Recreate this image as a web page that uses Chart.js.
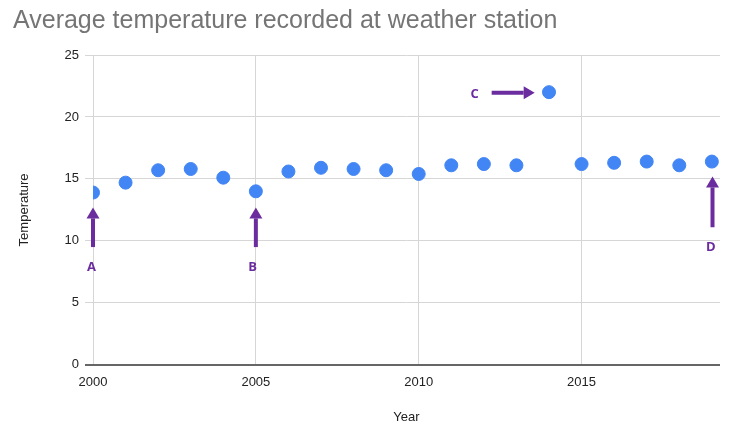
<!DOCTYPE html>
<html>
<head>
<meta charset="utf-8">
<script src="https://cdn.jsdelivr.net/npm/chart.js@4.4.0/dist/chart.umd.min.js"></script>
<style>
  html, body { margin: 0; padding: 0; background: #fff; }
  #wrap { width: 741px; height: 429px; }
</style>
</head>
<body>
<div id="wrap"><canvas id="tempChart"></canvas></div>
<script>
// data
const years = [2000, 2001, 2002, 2003, 2004, 2005, 2006, 2007, 2008, 2009,
               2010, 2011, 2012, 2013, 2014, 2015, 2016, 2017, 2018, 2019]
const temps = [13.9, 14.7, 15.7, 15.8, 15.1, 14.0, 15.6, 15.9, 15.8, 15.7,
               15.4, 16.1, 16.2, 16.1, 22.0, 16.2, 16.3, 16.4, 16.1, 16.4]
const yTicks = [0, 5, 10, 15, 20, 25]
const xTicks = [2000, 2005, 2010, 2015]

// arrow callouts, in data units
const callouts = [
    { label: 'A', x: 2000, y: 9.5, toX: 2000, toY: 12.7, lx: 1999.95, ly: 7.9 },
    { label: 'B', x: 2005, y: 9.5, toX: 2005, toY: 12.7, lx: 2004.9, ly: 7.9 },
    { label: 'C', x: 2012.24, y: 21.95, toX: 2013.56, toY: 21.95, lx: 2011.72, ly: 21.85 },
    { label: 'D', x: 2019.02, y: 11.1, toX: 2019.02, toY: 15.2, lx: 2018.97, ly: 9.5 }
]

const purple = '#6a2c9e'

const calloutPlugin = {
    id: 'callouts',
    afterDatasetsDraw(chart) {
        const ctx = chart.ctx
        const xs = chart.scales.x
        const ys = chart.scales.y
        ctx.save()
        ctx.fillStyle = purple
        ctx.strokeStyle = purple
        callouts.forEach(function (c) {
            const x1 = xs.getPixelForValue(c.x), y1 = ys.getPixelForValue(c.y)
            const x2 = xs.getPixelForValue(c.toX), y2 = ys.getPixelForValue(c.toY)
            const ang = Math.atan2(y2 - y1, x2 - x1)
            const head = 11, half = 6.5
            const bx = x2 - head * Math.cos(ang), by = y2 - head * Math.sin(ang)
            ctx.lineWidth = 4
            ctx.beginPath()
            ctx.moveTo(x1, y1)
            ctx.lineTo(bx, by)
            ctx.stroke()
            ctx.beginPath()
            ctx.moveTo(x2, y2)
            ctx.lineTo(bx + half * Math.sin(ang), by - half * Math.cos(ang))
            ctx.lineTo(bx - half * Math.sin(ang), by + half * Math.cos(ang))
            ctx.closePath()
            ctx.fill()
            ctx.font = 'bold 13px "Open Sans", sans-serif'
            ctx.textAlign = 'center'
            ctx.textBaseline = 'middle'
            ctx.fillText(c.label, xs.getPixelForValue(c.lx), ys.getPixelForValue(c.ly))
        })
        ctx.restore()
    }
}

Chart.defaults.font.family = '"Liberation Sans", Arial, sans-serif'
Chart.defaults.color = '#222'

new Chart(document.getElementById('tempChart').getContext('2d'), {
    type: 'scatter',
    data: {
        datasets: [{
            data: years.map((y, i) => ({ x: y, y: temps[i] })),
            backgroundColor: '#4285f4',
            borderColor: '#4285f4',
            pointRadius: 6.5,
            pointHoverRadius: 6.5
        }]
    },
    options: {
        responsive: true,
        maintainAspectRatio: false,
        animation: false,
        events: [],
        layout: { padding: { left: 13, right: 21, top: 0, bottom: 0 } },
        plugins: {
            legend: { display: false },
            tooltip: { enabled: false },
            title: {
                display: true,
                text: 'Average temperature recorded at weather station',
                align: 'start',
                color: '#757575',
                font: { size: 25, weight: 'normal' },
                padding: { top: 6, bottom: 19 }
            }
        },
        scales: {
            x: {
                type: 'linear',
                min: 2000,
                max: 2019.25,
                afterBuildTicks: function (s) { s.ticks = xTicks.map(v => ({ value: v })) },
                border: { display: false },
                grid: { color: '#d6d6d6', drawTicks: false },
                ticks: { font: { size: 13 }, padding: 10, callback: v => String(v) },
                title: { display: true, text: 'Year', font: { size: 13 }, padding: { top: 9 } }
            },
            y: {
                min: 0,
                max: 25,
                afterBuildTicks: function (s) { s.ticks = yTicks.map(v => ({ value: v })) },
                afterFit: function (s) { s.width = 80 },
                border: { display: false },
                grid: {
                    color: ctx => ctx.tick && ctx.tick.value === 0 ? '#666' : '#d6d6d6',
                    lineWidth: ctx => ctx.tick && ctx.tick.value === 0 ? 2 : 1,
                    tickLength: 8
                },
                ticks: { font: { size: 13 }, padding: 6 },
                title: { display: true, text: 'Temperature', font: { size: 13 }, padding: { bottom: 14 } }
            }
        }
    },
    plugins: [calloutPlugin]
})
</script>
</body>
</html>
